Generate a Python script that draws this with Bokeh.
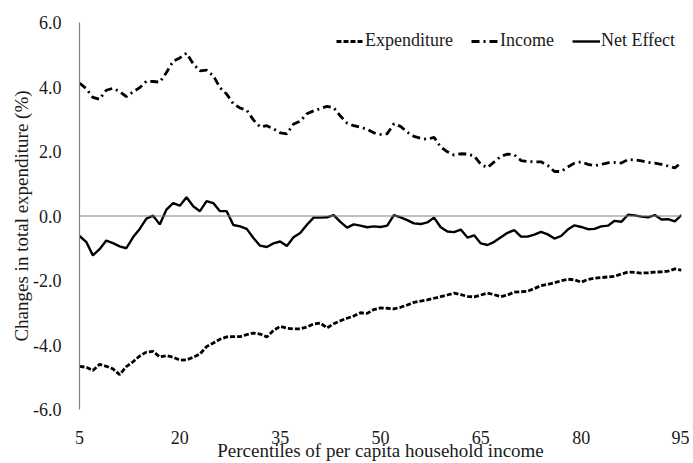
from bokeh.plotting import figure
from bokeh.models import Range1d, FixedTicker, Span, Legend, LegendItem, ColumnDataSource, CustomJSTickFormatter
from bokeh.embed import file_html
from bokeh.resources import INLINE

percentiles = list(range(5, 96))

income = [4.12, 3.95, 3.68, 3.62, 3.90, 3.96, 3.86, 3.70, 3.85, 3.98,
          4.18, 4.17, 4.15, 4.45, 4.80, 4.90, 5.05, 4.72, 4.50, 4.52,
          4.35, 3.98, 3.78, 3.48, 3.35, 3.28, 2.98, 2.76, 2.80, 2.70,
          2.58, 2.55, 2.85, 2.94, 3.17, 3.26, 3.33, 3.40, 3.36, 3.10,
          2.88, 2.80, 2.75, 2.69, 2.58, 2.53, 2.55, 2.86, 2.78, 2.60,
          2.47, 2.41, 2.38, 2.44, 2.14, 1.99, 1.89, 1.93, 1.92, 1.86,
          1.60, 1.50, 1.68, 1.85, 1.92, 1.90, 1.72, 1.69, 1.68, 1.68,
          1.57, 1.38, 1.38, 1.52, 1.64, 1.68, 1.60, 1.56, 1.60, 1.65,
          1.66, 1.64, 1.75, 1.74, 1.71, 1.66, 1.64, 1.60, 1.55, 1.49,
          1.66]

net_effect = [-0.62, -0.80, -1.22, -1.03, -0.76, -0.84, -0.94, -1.00, -0.66, -0.40,
              -0.08, 0.01, -0.26, 0.20, 0.40, 0.32, 0.58, 0.30, 0.15, 0.46,
              0.40, 0.15, 0.15, -0.28, -0.32, -0.40, -0.68, -0.92, -0.96, -0.85,
              -0.79, -0.93, -0.66, -0.53, -0.27, -0.05, -0.05, -0.04, 0.03, -0.18,
              -0.36, -0.26, -0.30, -0.35, -0.32, -0.34, -0.30, 0.03, -0.04, -0.13,
              -0.23, -0.25, -0.20, -0.05, -0.35, -0.48, -0.50, -0.42, -0.67, -0.60,
              -0.85, -0.90, -0.80, -0.66, -0.52, -0.44, -0.64, -0.64, -0.58, -0.49,
              -0.57, -0.70, -0.62, -0.42, -0.29, -0.34, -0.41, -0.40, -0.32, -0.30,
              -0.15, -0.18, 0.04, 0.02, -0.02, -0.04, 0.03, -0.11, -0.10, -0.17,
              0.03]

expenditure = [-4.66, -4.69, -4.79, -4.60, -4.66, -4.74, -4.92, -4.67, -4.52, -4.34,
               -4.22, -4.20, -4.37, -4.33, -4.38, -4.47, -4.46, -4.38, -4.28, -4.05,
               -3.94, -3.82, -3.75, -3.74, -3.74, -3.68, -3.63, -3.66, -3.75, -3.55,
               -3.42, -3.48, -3.50, -3.50, -3.44, -3.35, -3.32, -3.47, -3.34, -3.25,
               -3.17, -3.10, -3.00, -3.02, -2.90, -2.85, -2.86, -2.88, -2.83, -2.76,
               -2.68, -2.64, -2.60, -2.55, -2.50, -2.45, -2.39, -2.44, -2.49, -2.51,
               -2.45, -2.39, -2.44, -2.50, -2.45, -2.36, -2.35, -2.33, -2.25, -2.16,
               -2.12, -2.07, -2.01, -1.96, -1.98, -2.05, -1.97, -1.93, -1.91, -1.89,
               -1.87, -1.80, -1.74, -1.75, -1.77, -1.76, -1.74, -1.73, -1.71, -1.64,
               -1.68]

x_ticks = [5, 20, 35, 50, 65, 80, 95]
y_ticks = [-6, -4, -2, 0, 2, 4, 6]
x_title = "Percentiles of per capita household income"
y_title = "Changes in total expenditure (%)"

FONT = "Liberation Serif"
FS = "18px"
FS_TITLE = "19px"
TXT = "#1a1a1a"
GRAY = "#808080"

src = ColumnDataSource(dict(p=percentiles, inc=income, net=net_effect, exp=expenditure))

p = figure(width=689, height=463, output_backend="svg", toolbar_location=None,
           x_range=Range1d(5, 95), y_range=Range1d(-6, 6),
           min_border_left=79, min_border_right=8, min_border_top=22, min_border_bottom=53)
p.outline_line_color = None
p.grid.grid_line_color = None
p.background_fill_color = "white"

r_exp = p.line("p", "exp", source=src, line_color="black", line_width=2.8, line_dash="5 2")
r_inc = p.line("p", "inc", source=src, line_color="black", line_width=2.8, line_dash="8 4 2 4")
r_net = p.line("p", "net", source=src, line_color="black", line_width=2.4)

p.add_layout(Span(location=0, dimension="width", line_color=GRAY, line_width=1.2))

xa = p.xaxis[0]
xa.ticker = FixedTicker(ticks=x_ticks)
xa.axis_line_color = None
xa.major_tick_line_color = None
xa.minor_tick_line_color = None
xa.major_tick_out = 0
xa.major_tick_in = 0
xa.major_label_standoff = 21
xa.major_label_text_font = FONT
xa.major_label_text_font_size = FS
xa.major_label_text_color = TXT
xa.axis_label = x_title
xa.axis_label_standoff = -7
xa.axis_label_text_font = FONT
xa.axis_label_text_font_style = "normal"
xa.axis_label_text_font_size = FS_TITLE
xa.axis_label_text_color = TXT

ya = p.yaxis[0]
ya.ticker = FixedTicker(ticks=y_ticks)
ya.formatter = CustomJSTickFormatter(code="return tick.toFixed(1);")
ya.axis_line_color = GRAY
ya.axis_line_width = 1.2
ya.major_tick_line_color = None
ya.minor_tick_line_color = None
ya.major_tick_out = 0
ya.major_tick_in = 0
ya.major_label_standoff = 18
ya.axis_label = y_title
ya.axis_label_standoff = -2
ya.axis_label_text_font = FONT
ya.axis_label_text_font_style = "normal"
ya.axis_label_text_font_size = FS_TITLE
ya.axis_label_text_color = TXT
ya.major_label_text_font = FONT
ya.major_label_text_font_size = FS
ya.major_label_text_color = TXT

legend = Legend(items=[LegendItem(label="Expenditure", renderers=[r_exp]),
                       LegendItem(label="Income", renderers=[r_inc]),
                       LegendItem(label="Net Effect", renderers=[r_net])],
                orientation="horizontal", location=(257, 358),
                label_text_font=FONT, label_text_font_size=FS, label_text_color=TXT,
                glyph_width=28, glyph_height=18, label_standoff=1, spacing=18,
                padding=0, margin=0, border_line_color=None, background_fill_alpha=0)
p.add_layout(legend, "center")

open("out.html", "w").write(file_html(p, INLINE))
